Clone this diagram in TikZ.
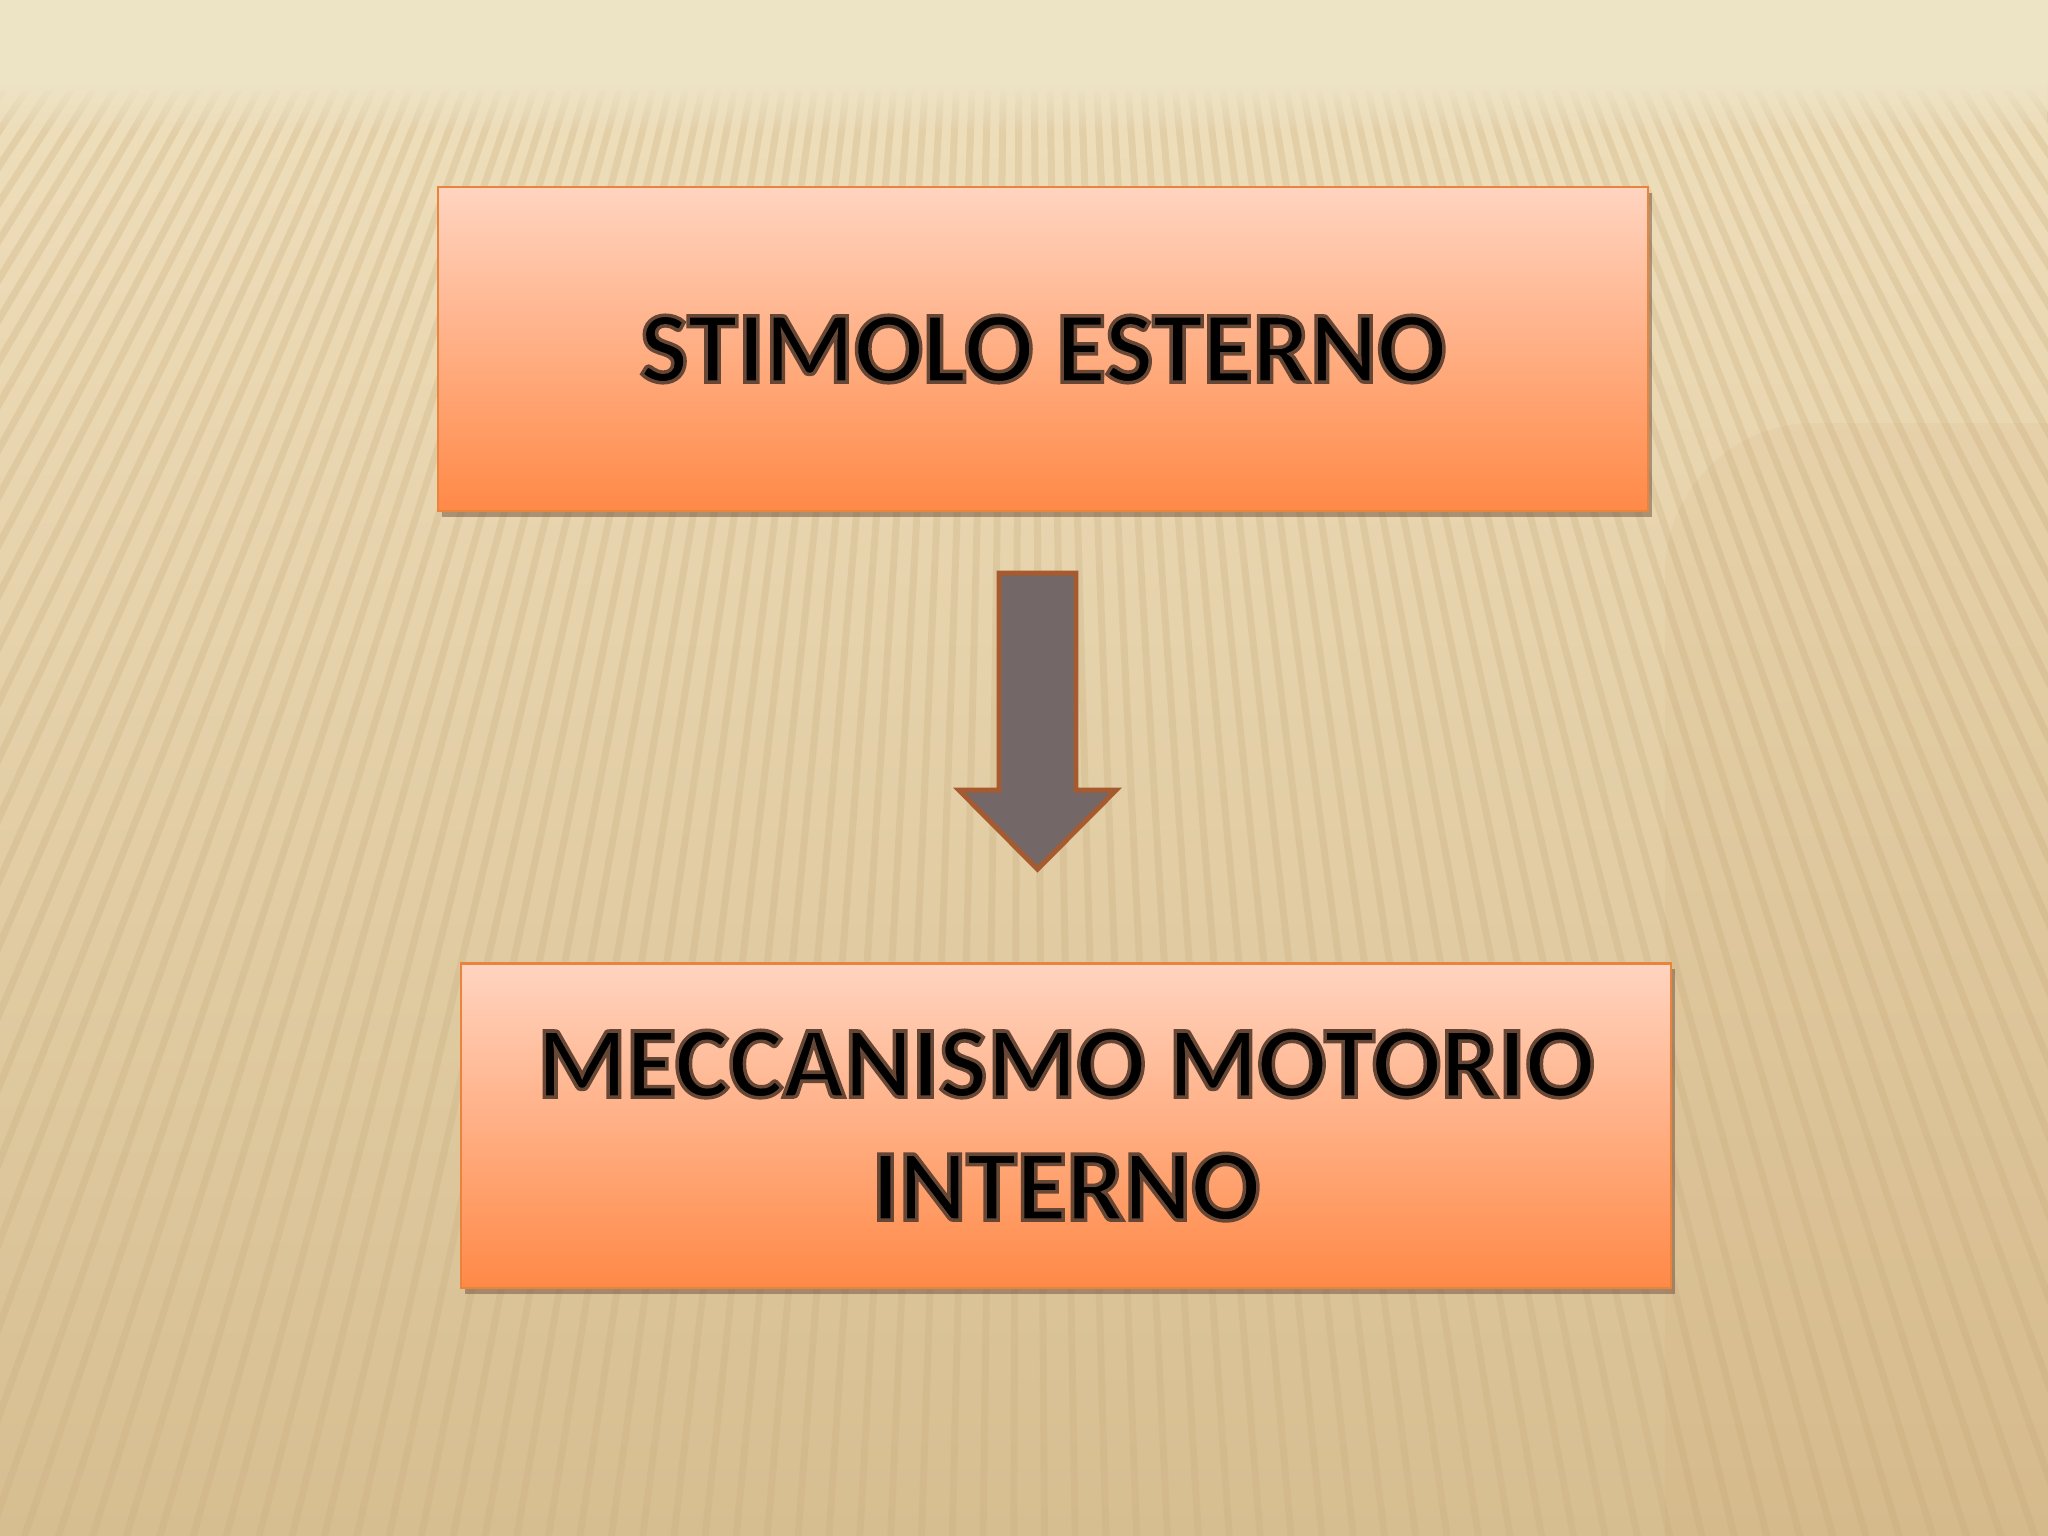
\documentclass[tikz,border=0pt]{standalone}
\usepackage{fontspec}
\setsansfont{Carlito}
\usetikzlibrary{positioning, calc, shadows, fadings}

\definecolor{bgband}{HTML}{EDE3C5}
\definecolor{bgtop}{HTML}{F0E0BD}
\definecolor{bgbot}{HTML}{D7BE91}
\definecolor{stripecol}{HTML}{C9AE80}
\definecolor{boxtop}{HTML}{FFD4C0}
\definecolor{boxmid}{HTML}{FFAB80}
\definecolor{boxbot}{HTML}{FF8947}
\definecolor{boxline}{HTML}{E9843F}
\definecolor{arrowfill}{HTML}{736767}
\definecolor{arrowline}{HTML}{A65A30}
\definecolor{halo}{HTML}{6E4E3C}

\tikzfading[name=bandfade, top color=transparent!0, bottom color=transparent!100]
% outlined text: fill black, stroke brown
\newcommand\halotext[1]{\special{pdf:literal direct 2 Tr 1.0 w 0.40 0.28 0.21 RG}#1\special{pdf:literal direct 0 Tr}}

\begin{document}
\begin{tikzpicture}[%
    x=0.01cm, y=-0.01cm,
    font=\sffamily\bfseries\fontsize{29}{35}\selectfont,
    % Colors
    stripe/.style={draw=stripecol, line width=0.07cm, opacity=0.3},
    stimbox/.style={draw=boxline, line width=0.6pt, rectangle, top color=boxtop, middle color=boxmid, bottom color=boxbot,
        minimum width=12.1cm, minimum height=3.24cm, align=center,
        drop shadow={shadow xshift=0.04cm, shadow yshift=-0.06cm, fill=halo, opacity=0.5}},
    blockarrow/.style={fill=arrowfill, draw=arrowline, line width=1.4pt, line join=miter}
]

% --- Background ---
\fill[top color=bgtop, bottom color=bgbot] (0,0) rectangle (2048,1536);
\coordinate (apex) at (1024,-1400);
\begin{scope}
    \clip (0,90) rectangle (2048,1536);
    \foreach \a in {-37,-36.4,...,37}
        \draw[stripe] (apex) -- ++(90+\a:3400);
    \fill[brown, opacity=0.06, rounded corners=1.5cm] (1665,423) rectangle (2200,1700);
\end{scope}
\fill[bgband] (0,0) rectangle (2048,85);
\fill[bgband, path fading=bandfade] (0,84) rectangle (2048,135);

% --- Boxes ---
\node[stimbox] (stimolo) at (1043,349) {\halotext{STIMOLO ESTERNO}};
\node[stimbox, below=4.5cm of stimolo, xshift=0.23cm] (meccanismo)
    {\halotext{MECCANISMO MOTORIO}\\\halotext{INTERNO}};

% --- Block arrow ---
\coordinate[below=0.61cm of stimolo.south, xshift=-0.055cm] (arrtop);
\draw[blockarrow] ($(arrtop)+(-38.5,0)$) -- ($(arrtop)+(38.5,0)$) -- ($(arrtop)+(38.5,217)$)
    -- ($(arrtop)+(78.5,217)$) -- ($(arrtop)+(0,296)$) -- ($(arrtop)+(-78.5,217)$)
    -- ($(arrtop)+(-38.5,217)$) -- cycle;

\useasboundingbox (0,0) rectangle (2048,1536);
\end{tikzpicture}
\end{document}
